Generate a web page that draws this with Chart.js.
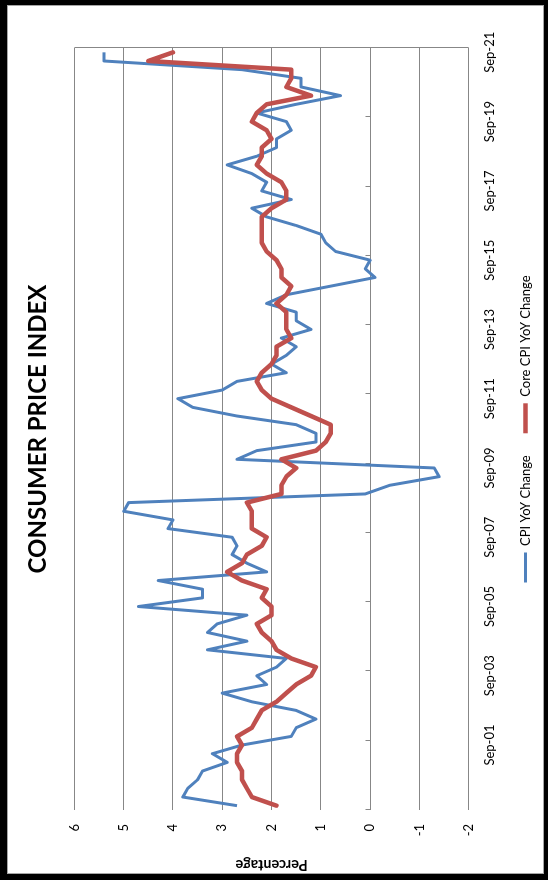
<!DOCTYPE html>
<html>
<head>
<meta charset="utf-8">
<script src="https://cdn.jsdelivr.net/npm/chart.js@4.4.0/dist/chart.umd.min.js"></script>
<style>
  html, body { margin: 0; padding: 0; background: #fff; }
  #frame {
    position: absolute; left: 0; top: 0; width: 548px; height: 880px;
    box-sizing: border-box; border-style: solid; border-color: #000;
    border-width: 5px 4px 6px 7px; background: #fff;
  }
  #inner {
    position: absolute; left: 0; top: 0; width: 869px; height: 537px;
    transform-origin: 0 0; transform: translateY(869px) rotate(-90deg);
  }
  #edge {
    position: absolute; left: 0; top: 0; right: 0; bottom: 0;
    border: 1px solid #a6a6a6; pointer-events: none;
  }
</style>
</head>
<body>
<div id="frame">
  <div id="inner"><canvas id="c" width="869" height="537"></canvas></div>
  <div id="edge"></div>
</div>
<script>
const categories = [
  'Dec-99',
  'Mar-00','Jun-00','Sep-00','Dec-00',
  'Mar-01','Jun-01','Sep-01','Dec-01',
  'Mar-02','Jun-02','Sep-02','Dec-02',
  'Mar-03','Jun-03','Sep-03','Dec-03',
  'Mar-04','Jun-04','Sep-04','Dec-04',
  'Mar-05','Jun-05','Sep-05','Dec-05',
  'Mar-06','Jun-06','Sep-06','Dec-06',
  'Mar-07','Jun-07','Sep-07','Dec-07',
  'Mar-08','Jun-08','Sep-08','Dec-08',
  'Mar-09','Jun-09','Sep-09','Dec-09',
  'Mar-10','Jun-10','Sep-10','Dec-10',
  'Mar-11','Jun-11','Sep-11','Dec-11',
  'Mar-12','Jun-12','Sep-12','Dec-12',
  'Mar-13','Jun-13','Sep-13','Dec-13',
  'Mar-14','Jun-14','Sep-14','Dec-14',
  'Mar-15','Jun-15','Sep-15','Dec-15',
  'Mar-16','Jun-16','Sep-16','Dec-16',
  'Mar-17','Jun-17','Sep-17','Dec-17',
  'Mar-18','Jun-18','Sep-18','Dec-18',
  'Mar-19','Jun-19','Sep-19','Dec-19',
  'Mar-20','Jun-20','Sep-20','Dec-20',
  'Mar-21','Jun-21','Sep-21'
];

const cpiYoY = [
  2.7,
  3.8, 3.7, 3.5, 3.4,
  2.9, 3.2, 2.6, 1.6,
  1.5, 1.1, 1.5, 2.4,
  3.0, 2.1, 2.3, 1.9,
  1.7, 3.3, 2.5, 3.3,
  3.1, 2.5, 4.7, 3.4,
  3.4, 4.3, 2.1, 2.5,
  2.8, 2.7, 2.8, 4.1,
  4.0, 5.0, 4.9, 0.1,
  -0.4, -1.4, -1.3, 2.7,
  2.3, 1.1, 1.1, 1.5,
  2.7, 3.6, 3.9, 3.0,
  2.7, 1.7, 2.0, 1.7,
  1.5, 1.8, 1.2, 1.5,
  1.5, 2.1, 1.7, 0.8,
  -0.1, 0.1, 0.0, 0.7,
  0.9, 1.0, 1.5, 2.1,
  2.4, 1.6, 2.2, 2.1,
  2.4, 2.9, 2.3, 1.9,
  1.9, 1.6, 1.7, 2.3,
  1.5, 0.6, 1.4, 1.4,
  2.6, 5.4, 5.4
];

const coreCpiYoY = [
  1.9,
  2.4, 2.5, 2.6, 2.6,
  2.7, 2.7, 2.6, 2.7,
  2.4, 2.3, 2.2, 1.9,
  1.7, 1.5, 1.2, 1.1,
  1.6, 1.9, 2.0, 2.2,
  2.3, 2.0, 2.0, 2.2,
  2.1, 2.6, 2.9, 2.6,
  2.5, 2.2, 2.1, 2.4,
  2.4, 2.4, 2.5, 1.8,
  1.8, 1.7, 1.5, 1.8,
  1.1, 0.9, 0.8, 0.8,
  1.2, 1.6, 2.0, 2.2,
  2.3, 2.2, 2.0, 1.9,
  1.9, 1.6, 1.7, 1.7,
  1.7, 1.9, 1.7, 1.6,
  1.8, 1.8, 1.9, 2.1,
  2.2, 2.2, 2.2, 2.2,
  2.0, 1.7, 1.7, 1.8,
  2.1, 2.3, 2.2, 2.2,
  2.0, 2.1, 2.4, 2.3,
  2.1, 1.2, 1.7, 1.6,
  1.6, 4.5, 4.0
];

const tickLabels = ['Sep-01','Sep-03','Sep-05','Sep-07','Sep-09','Sep-11','Sep-13','Sep-15','Sep-17','Sep-19','Sep-21'];
const valueTicks = [-2, -1, 0, 1, 2, 3, 4, 5, 6];

const FONT = 'Lato, "Open Sans", sans-serif';
const GRID = '#878787';

const extras = {
  id: 'extras',
  beforeDatasetsDraw(chart) {
    const {ctx, chartArea: ca, scales: {x, y}} = chart;
    ctx.save();
    ctx.strokeStyle = GRID;
    ctx.lineWidth = 1;
    ctx.beginPath();
    const rx = Math.round(ca.right) + 0.5;
    ctx.moveTo(rx, ca.top);
    ctx.lineTo(rx, ca.bottom);
    const y0 = Math.round(y.getPixelForValue(0)) + 0.5;
    const half = (x.getPixelForValue(1) - x.getPixelForValue(0)) / 2;
    for (let i = 0; i <= categories.length; i += 8) {
      const px = Math.round(x.getPixelForValue(i) - half) + 0.5;
      ctx.moveTo(px, y0);
      ctx.lineTo(px, y0 - 5);
    }
    ctx.stroke();
    ctx.restore();
  }
};

new Chart(document.getElementById('c'), {
  type: 'line',
  data: {
    labels: categories,
    datasets: [
      {
        label: 'CPI YoY Change',
        data: cpiYoY,
        borderColor: '#4F81BD',
        backgroundColor: '#4F81BD',
        borderWidth: 3,
        pointRadius: 0,
        tension: 0,
        borderJoinStyle: 'round',
        order: 2
      },
      {
        label: 'Core CPI YoY Change',
        data: coreCpiYoY,
        borderColor: '#C0504D',
        backgroundColor: '#C0504D',
        borderWidth: 4.5,
        pointRadius: 0,
        tension: 0,
        borderJoinStyle: 'round',
        borderCapStyle: 'round',
        order: 1
      }
    ]
  },
  options: {
    responsive: false,
    animation: false,
    devicePixelRatio: 1,
    layout: { padding: { left: 0, right: 43, top: 0, bottom: 2 } },
    plugins: {
      title: {
        display: true,
        text: 'CONSUMER PRICE INDEX',
        fullSize: false,
        color: '#000',
        font: { family: FONT, size: 24, weight: 'bold', lineHeight: 1.2 },
        padding: { top: 17, bottom: 21.6 }
      },
      legend: {
        display: true,
        position: 'bottom',
        fullSize: false,
        labels: {
          color: '#000',
          font: { family: FONT, size: 13 },
          usePointStyle: true,
          pointStyle: 'line',
          pointStyleWidth: 30,
          padding: 22,
          sort: (a, b) => a.datasetIndex - b.datasetIndex
        }
      },
      tooltip: { enabled: false }
    },
    scales: {
      x: {
        type: 'category',
        offset: true,
        grid: { display: false, drawTicks: false },
        border: { display: false },
        ticks: {
          autoSkip: false,
          maxRotation: 0,
          minRotation: 0,
          padding: 13,
          color: '#000',
          font: { family: FONT, size: 13 },
          callback: function(v, i) {
            const lab = categories[i];
            return tickLabels.includes(lab) ? lab : '';
          }
        },
        afterFit: function(s) { s.height = 28.3; }
      },
      y: {
        min: -2,
        max: 6,
        afterBuildTicks: function(s) { s.ticks = valueTicks.map(v => ({ value: v })); },
        grid: { color: GRID, lineWidth: 1, drawTicks: false },
        border: { display: false },
        ticks: {
          padding: 14,
          color: '#000',
          font: { family: FONT, size: 13 }
        },
        title: {
          display: true,
          text: 'Percentage',
          color: '#000',
          font: { family: FONT, size: 14.5, weight: 'bold' },
          padding: { top: 1, bottom: 4 }
        },
        afterFit: function(s) { s.width = 64; }
      }
    }
  },
  plugins: [extras]
});
</script>
</body>
</html>
